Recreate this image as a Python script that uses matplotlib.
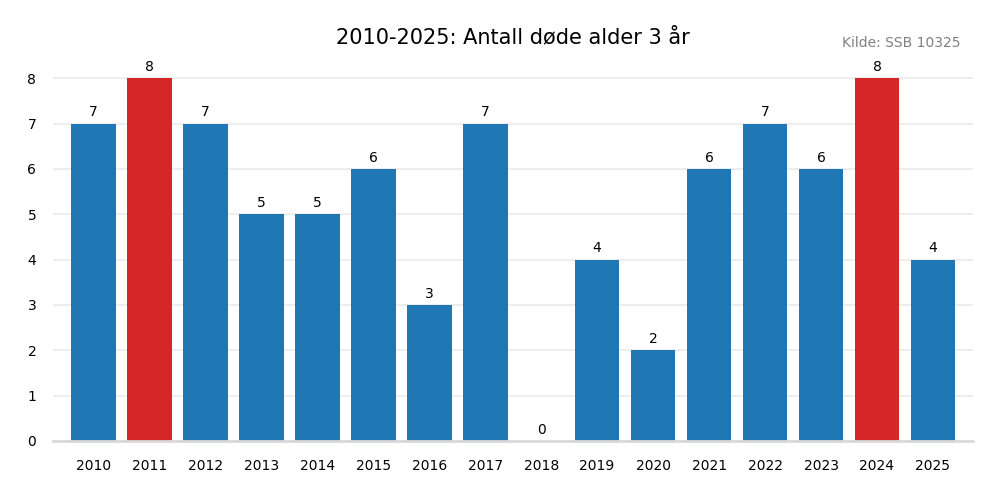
import numpy as np
import matplotlib
matplotlib.use("Agg")
import matplotlib.pyplot as plt

years = [str(y) for y in range(2010, 2026)]
deaths = [7, 8, 7, 5, 5, 6, 3, 7, 0, 4, 2, 6, 7, 6, 8, 4]
highlight = ["2011", "2024"]

blue = "#1f77b4"
red = "#d62728"
colors = [red if y in highlight else blue for y in years]

fig = plt.figure(figsize=(10, 5), dpi=100)
ax = fig.add_axes([0.053, 0.118, 0.92, 0.762])

x = np.arange(len(years))
bars = ax.bar(x, deaths, width=0.8, color=colors, zorder=3)
for xi, v in zip(x, deaths):
    ax.text(xi, v + 0.09, str(v), ha="center", va="bottom", fontsize=10)

ax.set_xlim(-0.72, len(years) - 0.285)
ax.set_ylim(0, 8.4)
ax.set_xticks(x)
ax.set_xticklabels(years, fontsize=10)
ax.set_yticks(range(0, 9))
ax.tick_params(axis="y", labelsize=10, length=0, pad=12)
ax.tick_params(axis="x", length=0, pad=13)
ax.grid(axis="y", color="#ebebeb", linewidth=1.2, zorder=0)

for s in ["left", "right", "top"]:
    ax.spines[s].set_visible(False)
ax.spines["bottom"].set_color("#d9d9d9")
ax.spines["bottom"].set_linewidth(2)
ax.spines["bottom"].set_zorder(4)

fig.text(0.513, 0.926, "2010-2025: Antall døde alder 3 år", ha="center",
         va="center", fontsize=15)
fig.text(0.96, 0.914, "Kilde: SSB 10325", ha="right", va="center",
         fontsize=10, color="#808080")

fig.savefig("out.png")
